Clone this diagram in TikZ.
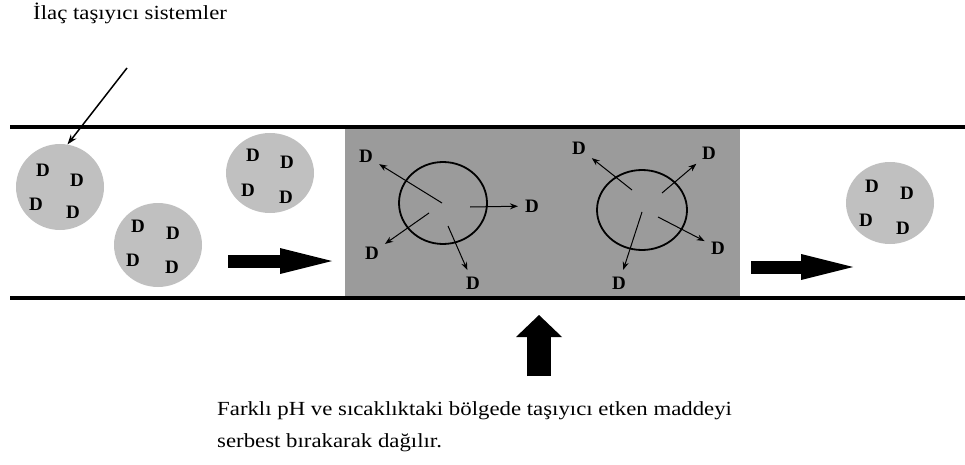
\documentclass[tikz,border=0pt]{standalone}
\usepackage{fontspec}
\setmainfont{Liberation Serif}
\newfontfamily\notefont[FakeStretch=1.14]{Liberation Serif}
\usepackage{tikz}
\usetikzlibrary{arrows.meta,shapes.geometric}
\definecolor{bolge}{RGB}{155,155,155}
\definecolor{tasiyici}{RGB}{192,192,192}

\begin{document}
\begin{tikzpicture}[x=1pt, y=-1pt,
  note/.style={font=\notefont\fontsize{20}{24}\selectfont, inner sep=0pt, anchor=base west},
  drug/.style={font=\bfseries\fontsize{19}{19}\selectfont, inner sep=1pt},
  carrier/.style={ellipse, fill=tasiyici, minimum width=88pt, minimum height=84pt, inner sep=0pt},
  vesicle/.style={ellipse, draw, line width=1.8pt, minimum width=88pt, minimum height=82pt, inner sep=0pt},
  release/.style={-{Stealth[length=8pt,width=6pt]}, line width=1pt, shorten >=6pt},
  pointer/.style={-{Stealth[length=10pt,width=7pt]}, line width=1.5pt},
  flow/.style={line width=13pt, -{Triangle[length=52pt,width=26pt,line width=0pt]}},
  wall/.style={line width=4pt}]
  \useasboundingbox (0,0) rectangle (965,465);

  % Damar ve bölge
  \fill[bolge] (345,127) rectangle (740,297);
  \draw[wall] (10,127) -- (965,127);
  \draw[wall] (10,298) -- (965,298);

  % Taşıyıcı sistemler
  \node[carrier, minimum height=86pt] (c1) at (60,187) {};
  \node[carrier] (c2) at (158,245) {};
  \node[carrier, minimum height=80pt] (c3) at (270,173) {};
  \node[carrier, minimum height=82pt] (c4) at (890,203) {};

  \node[drug] (c1a) at (43,170) {D};
  \node[drug] (c1b) at (77,180) {D};
  \node[drug] (c1c) at (36,204) {D};
  \node[drug] (c1d) at (73,212) {D};

  \node[drug] (c2a) at (138,226) {D};
  \node[drug] (c2b) at (173,233) {D};
  \node[drug] (c2c) at (133,260) {D};
  \node[drug] (c2d) at (172,267) {D};

  \node[drug] (c3a) at (253,155) {D};
  \node[drug] (c3b) at (287,162) {D};
  \node[drug] (c3c) at (248,190) {D};
  \node[drug] (c3d) at (286,197) {D};

  \node[drug] (c4a) at (872,186) {D};
  \node[drug] (c4b) at (907,193) {D};
  \node[drug] (c4c) at (866,220) {D};
  \node[drug] (c4d) at (903,228) {D};

  % Dağılan taşıyıcılar
  \node[vesicle] (v1) at (443,203) {};
  \node[vesicle, minimum width=90pt, minimum height=80pt] (v2) at (642,210) {};

  \node[drug] (d1) at (366,156) {D};
  \node[drug] (d2) at (532,206) {D};
  \node[drug] (d3) at (372,253) {D};
  \node[drug] (d4) at (473,283) {D};
  \node[drug] (d5) at (579,148) {D};
  \node[drug] (d6) at (709,153) {D};
  \node[drug] (d7) at (718,248) {D};
  \node[drug] (d8) at (619,283) {D};

  \coordinate (s1) at (442,203);
  \coordinate (s2) at (470,207);
  \coordinate (s3) at (429,213);
  \coordinate (s4) at (448,226);
  \coordinate (s5) at (632,190);
  \coordinate (s6) at (662,193);
  \coordinate (s7) at (658,217);
  \coordinate (s8) at (642,212);

  \draw[release] (s1) -- (d1);
  \draw[release] (s2) -- (d2);
  \draw[release] (s3) -- (d3);
  \draw[release] (s4) -- (d4);
  \draw[release] (s5) -- (d5);
  \draw[release] (s6) -- (d6);
  \draw[release] (s7) -- (d7);
  \draw[release] (s8) -- (d8);

  % Akış okları
  \coordinate (f1) at (228,261);
  \coordinate (f2) at (332,261);
  \coordinate (f3) at (751,267);
  \coordinate (f4) at (853,267);
  \draw[flow] (f1) -- (f2);
  \draw[flow] (f3) -- (f4);

  \coordinate (u1) at (539,376);
  \coordinate (u2) at (539,315);
  \draw[line width=24pt, -{Triangle[length=22pt,width=46pt,line width=0pt]}] (u1) -- (u2);

  % Yazılar
  \node[note] (title) at (33,20) {İlaç taşıyıcı sistemler};
  \coordinate (isaret) at (127,68);
  \draw[pointer] (isaret) -- (c1.80);

  \node[note] (note1) at (217,415) {Farklı pH ve sıcaklıktaki bölgede taşıyıcı etken maddeyi};
  \node[note] (note2) at ([yshift=-32pt]note1.base west) {serbest bırakarak dağılır.};
\end{tikzpicture}
\end{document}
